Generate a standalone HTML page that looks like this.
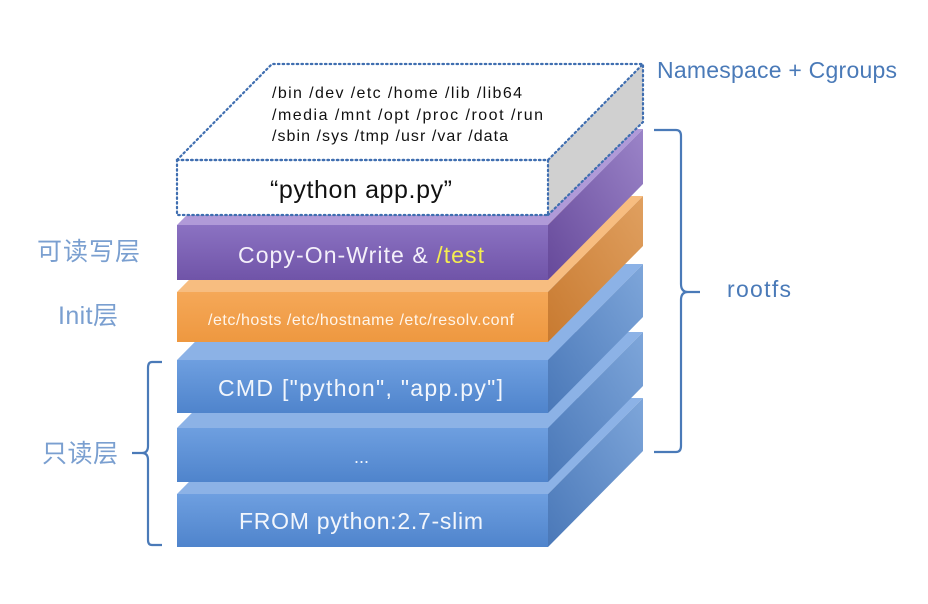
<!DOCTYPE html>
<html><head><meta charset="utf-8"><style>
html,body{margin:0;padding:0;background:#fff;}
svg{display:block;}
</style></head><body>
<svg width="928" height="604" viewBox="0 0 928 604" xmlns="http://www.w3.org/2000/svg">
<defs>
<linearGradient id="bs" x1="0" y1="1" x2="1" y2="0"><stop offset="0" stop-color="#4a78b8"/><stop offset="1" stop-color="#7ea6da"/></linearGradient>
<linearGradient id="bf" x1="0" y1="0" x2="0" y2="1"><stop offset="0" stop-color="#6e9fe0"/><stop offset="1" stop-color="#4f84cc"/></linearGradient>
<linearGradient id="ps" x1="0" y1="1" x2="1" y2="0"><stop offset="0" stop-color="#66499a"/><stop offset="1" stop-color="#9b84c8"/></linearGradient>
<linearGradient id="pf" x1="0" y1="0" x2="0" y2="1"><stop offset="0" stop-color="#8b72c2"/><stop offset="1" stop-color="#7054a8"/></linearGradient>
<linearGradient id="os" x1="0" y1="1" x2="1" y2="0"><stop offset="0" stop-color="#c87a30"/><stop offset="1" stop-color="#e0a060"/></linearGradient>
<linearGradient id="of" x1="0" y1="0" x2="0" y2="1"><stop offset="0" stop-color="#f5a858"/><stop offset="1" stop-color="#ee9840"/></linearGradient>
</defs>

<polygon points="177,494 272,398 643,398 548,494" fill="#8cb2e6"/>
<polygon points="548,494 643,398 643,451 548,547" fill="url(#bs)"/>
<rect x="177" y="494" width="371" height="53" fill="url(#bf)"/>
<polygon points="177,428 272,332 643,332 548,428" fill="#8cb2e6"/>
<polygon points="548,428 643,332 643,386 548,482" fill="url(#bs)"/>
<rect x="177" y="428" width="371" height="54" fill="url(#bf)"/>
<polygon points="177,360 272,264 643,264 548,360" fill="#8cb2e6"/>
<polygon points="548,360 643,264 643,317 548,413" fill="url(#bs)"/>
<rect x="177" y="360" width="371" height="53" fill="url(#bf)"/>
<polygon points="177,292 272,196 643,196 548,292" fill="#f7bd80"/>
<polygon points="548,292 643,196 643,246 548,342" fill="url(#os)"/>
<rect x="177" y="292" width="371" height="50" fill="url(#of)"/>
<polygon points="177,225 272,129 643,129 548,225" fill="#b09ad8"/>
<polygon points="548,225 643,129 643,184 548,280" fill="url(#ps)"/>
<rect x="177" y="225" width="371" height="55" fill="url(#pf)"/>
<polygon points="548,160 643,64 643,122 548,215" fill="#d0d0d0"/>
<polygon points="177,160 272,64 643,64 548,160" fill="#fff"/>
<rect x="177" y="160" width="371" height="55" fill="#fff"/>
<g fill="none" stroke="#3f6eb0" stroke-width="2.2" stroke-dasharray="1.5,3.2" stroke-linecap="round">
<polygon points="177,160 272,64 643,64 548,160"/>
<rect x="177" y="160" width="371" height="55"/>
<polyline points="548,215 643,122 643,64"/>
</g>

<g font-family="Liberation Sans, DejaVu Sans, sans-serif">
<text x="272" y="98" font-size="16" fill="#111" textLength="250" lengthAdjust="spacing">/bin  /dev  /etc  /home  /lib  /lib64</text>
<text x="272" y="120" font-size="16" fill="#111" textLength="271" lengthAdjust="spacing">/media  /mnt  /opt  /proc  /root  /run</text>
<text x="272" y="141" font-size="16" fill="#111" textLength="236" lengthAdjust="spacing">/sbin  /sys  /tmp  /usr  /var /data</text>
<text x="270" y="198" font-size="25" fill="#111" textLength="182" lengthAdjust="spacing">“python app.py”</text>
<text x="238" y="263" font-size="23" fill="#f4f0fa" textLength="246" lengthAdjust="spacing">Copy-On-Write &amp; <tspan fill="#f5ee50">/test</tspan></text>
<text x="208" y="325" font-size="16" fill="#fff5ea" textLength="306" lengthAdjust="spacing">/etc/hosts /etc/hostname /etc/resolv.conf</text>
<text x="218" y="396" font-size="23" fill="#f2f6fc" textLength="285" lengthAdjust="spacing">CMD ["python", "app.py"]</text>
<text x="354" y="463" font-size="18" fill="#f2f6fc">...</text>
<text x="239" y="529" font-size="23" fill="#f2f6fc" textLength="244" lengthAdjust="spacing">FROM python:2.7-slim</text>
<text x="657" y="78" font-size="23" fill="#4a7ab8" textLength="240" lengthAdjust="spacing">Namespace + Cgroups</text>
<text x="727" y="297" font-size="23" fill="#4a7ab8" textLength="64" lengthAdjust="spacing">rootfs</text>
</g>
<g font-family="Liberation Sans, 'Noto Sans CJK SC', sans-serif" font-size="25" fill="#7a9fd0">
<text x="37" y="260" textLength="103" lengthAdjust="spacing">可读写层</text>
<text x="58" y="324" textLength="60" lengthAdjust="spacing">Init层</text>
<text x="42" y="462" textLength="76" lengthAdjust="spacing">只读层</text>
</g>
<g fill="none" stroke="#4a7ab8" stroke-width="2.2">
<path d="M162,362 H152 Q148,362 148,368 V446 Q148,453 142,453 H132 M142,453 Q148,453 148,460 V540 Q148,545 152,545 H162"/>
<path d="M654,130 H676 Q681,130 681,136 V284 Q681,292 688,292 H700 M688,292 Q681,292 681,300 V446 Q681,452 676,452 H654"/>
</g>
</svg>
</body></html>
